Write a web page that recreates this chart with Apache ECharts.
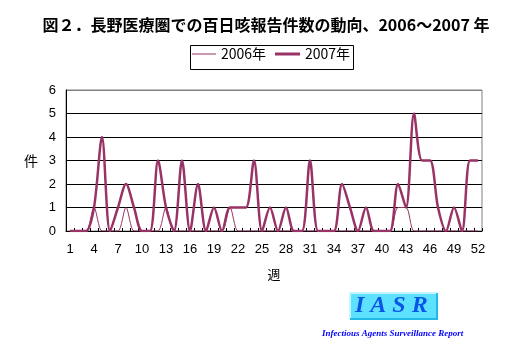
<!DOCTYPE html>
<html>
<head>
<meta charset="utf-8">
<script src="https://cdn.jsdelivr.net/npm/echarts@6/dist/echarts.min.js"></script>
<style>html,body{margin:0;padding:0;background:#fff;}#c{width:532px;height:363px;}</style>
</head>
<body>
<div id="c"></div>
<script>
var weeks = [];
for (var i = 1; i <= 52; i++) weeks.push(String(i));
var yTicks = [0, 1, 2, 3, 4, 5, 6];
var s2006 = [0,0,0,1,0,0,0,1,0,0, 0,0,1,0,0,0,0,0,0,0, 1,0,0,0,0,0,0,0,0,0, 0,0,0,0,0,0,0,0,0,0, 0,1,1,0,0,0,0,0,0,0, 0,0];
var s2007 = [0,0,0,1,4,0,1,2,1,0, 0,3,1,0,3,0,2,0,1,0, 1,1,1,3,0,1,0,1,0,0, 3,0,0,0,2,1,0,1,0,0, 0,2,1,5,3,3,1,0,1,0, 3,3];

var chart = echarts.init(document.getElementById('c'), null, {renderer: 'canvas'});
var font = '"Liberation Sans", Arial, sans-serif';
var cjk = '"Noto Sans CJK JP", sans-serif';
var legendText = {fontFamily: cjk, fontSize: 14, color: '#000'};
chart.setOption({
  animation: false,
  backgroundColor: '#fff',
  title: {
    text: '図２．長野医療圏での百日咳報告件数の動向、2006～2007 年',
    left: 'center', top: 12,
    textStyle: {fontFamily: cjk, fontWeight: 'bold', fontSize: 16, color: '#000'}
  },
  legend: [
    {data: ['2006年'], left: 192, top: 47, icon: 'rect', itemWidth: 24, itemHeight: 1, itemGap: 0, padding: 0,
     textStyle: legendText},
    {data: ['2007年'], left: 275, top: 47, icon: 'rect', itemWidth: 25, itemHeight: 3, itemGap: 0, padding: 0,
     textStyle: legendText}
  ],
  grid: {left: 66, right: 50, top: 90, bottom: 132, show: true, borderColor: '#808080', borderWidth: 1, backgroundColor: '#fff'},
  xAxis: {
    type: 'category', data: weeks, boundaryGap: true,
    name: '週', nameLocation: 'middle', nameGap: 37,
    nameTextStyle: {fontFamily: cjk, fontSize: 13, color: '#000'},
    axisLine: {lineStyle: {color: '#000', width: 1}},
    axisTick: {show: true, inside: true, length: 3, interval: 0, lineStyle: {color: '#000'}},
    axisLabel: {interval: 2, margin: 12, fontFamily: font, fontSize: 13, color: '#000'},
    splitLine: {show: false}
  },
  yAxis: {
    type: 'value', min: yTicks[0], max: yTicks[yTicks.length - 1], interval: 1,
    name: '件', nameLocation: 'middle', nameGap: 28, nameRotate: 0,
    nameTextStyle: {fontFamily: cjk, fontSize: 14, color: '#000'},
    axisLine: {show: true, lineStyle: {color: '#000', width: 1}},
    axisTick: {show: false},
    axisLabel: {margin: 10, fontFamily: font, fontSize: 13, color: '#000'},
    splitLine: {show: true, lineStyle: {color: ['#000', '#000', '#000', '#000', '#000', '#000', '#808080'], width: 1}}
  },
  series: [
    {name: '2006年', type: 'line', data: s2006, smooth: 0.3, symbol: 'none', z: 2,
     lineStyle: {color: '#993366', width: 1}, itemStyle: {color: '#993366'}},
    {name: '2007年', type: 'line', data: s2007, smooth: 0.3, symbol: 'none', z: 3,
     lineStyle: {color: '#993366', width: 2.5}, itemStyle: {color: '#993366'}}
  ],
  graphic: [
    {type: 'rect', shape: {x: 190.5, y: 45.5, width: 163, height: 24}, style: {fill: null, stroke: '#000', lineWidth: 1}, z: 100},
    {type: 'rect', left: 349, top: 292, shape: {width: 88, height: 27}, style: {fill: '#5ee0ff', stroke: null}},
    {type: 'polyline', shape: {points: [[350, 319], [350, 293], [437, 293]]}, style: {stroke: '#c8f4ff', lineWidth: 2, fill: null}},
    {type: 'polyline', shape: {points: [[350, 319], [437, 319], [437, 293]]}, style: {stroke: '#22b8e8', lineWidth: 2, fill: null}},
    {type: 'text', left: 355, top: 294, style: {text: 'I A S R', fill: '#0a55e6', font: 'italic bold 24px "Liberation Serif", serif'}},
    {type: 'text', left: 322, top: 329, style: {text: 'Infectious Agents Surveillance Report', fill: '#0000ff', font: 'italic bold 9px "Liberation Serif", serif'}}
  ]
});
</script>
</body>
</html>
